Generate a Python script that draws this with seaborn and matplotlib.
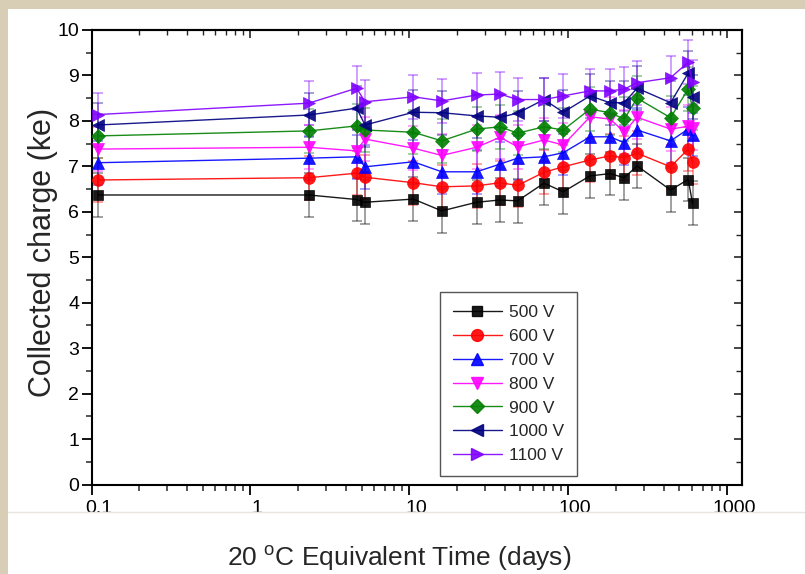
import matplotlib
matplotlib.use("Agg")
import matplotlib.pyplot as plt
import matplotlib.transforms as mtrans
from matplotlib.patches import Rectangle
from matplotlib.lines import Line2D
from matplotlib.ticker import FixedLocator, MultipleLocator, LogLocator, NullFormatter, FuncFormatter
import numpy as np
import pandas as pd
import seaborn as sns

# ---------------- data ----------------
TIME_DAYS = [0.11, 2.33, 4.66, 5.26, 10.6, 16.0, 26.5, 37.2, 48.0, 70.3, 93.0,
             137, 183, 225, 271, 440, 568, 605]

V500 = [6.37, 6.37, 6.27, 6.21, 6.28, 6.02, 6.21, 6.26, 6.24, 6.63, 6.44, 6.79, 6.84, 6.75, 7.01, 6.48, 6.71, 6.19]
V600 = [6.70, 6.75, 6.85, 6.76, 6.64, 6.55, 6.57, 6.64, 6.58, 6.87, 6.99, 7.14, 7.23, 7.19, 7.29, 6.99, 7.38, 7.09]
V700 = [7.08, 7.18, 7.21, 6.99, 7.10, 6.88, 6.88, 7.05, 7.18, 7.21, 7.30, 7.65, 7.65, 7.52, 7.80, 7.56, 7.82, 7.70]
V800 = [7.38, 7.42, 7.34, 7.60, 7.40, 7.24, 7.42, 7.64, 7.43, 7.58, 7.47, 8.09, 8.04, 7.76, 8.08, 7.82, 7.88, 7.85]
V900 = [7.67, 7.78, 7.89, 7.80, 7.75, 7.56, 7.82, 7.87, 7.73, 7.87, 7.80, 8.26, 8.18, 8.04, 8.50, 8.07, 8.70, 8.29]
V1000 = [7.91, 8.13, 8.28, 7.91, 8.19, 8.18, 8.11, 8.08, 8.17, 8.47, 8.19, 8.55, 8.40, 8.40, 8.72, 8.40, 9.05, 8.53]
V1100 = [8.14, 8.39, 8.72, 8.42, 8.53, 8.44, 8.57, 8.59, 8.47, 8.47, 8.55, 8.66, 8.66, 8.70, 8.84, 8.95, 9.29, 8.85]

CHARGE_ERR = 0.48  # ke, error bar half-height

SERIES_LABELS = ["500 V", "600 V", "700 V", "800 V", "900 V", "1000 V", "1100 V"]
SERIES_VALUES = [V500, V600, V700, V800, V900, V1000, V1100]

X_TICKS = [0.1, 1, 10, 100, 1000]

# ---------------- style ----------------
COLORS = ["#000000", "#ff0000", "#0000ff", "#ff00ff", "#008000", "#000080", "#8000ff"]
MARKERS = ["s", "o", "^", "v", "D", "<", ">"]
MSIZES = [7.5, 8.5, 8.5, 8.5, 7, 8.5, 8.5]

sns.set_theme(style="ticks")
plt.rcParams["font.family"] = ["Liberation Sans", "DejaVu Sans"]
plt.rcParams["mathtext.fontset"] = "custom"
plt.rcParams["mathtext.rm"] = "Liberation Sans"
plt.rcParams["mathtext.it"] = "Liberation Sans:italic"

W, H = 805, 574
fig = plt.figure(figsize=(W / 100, H / 100), dpi=100, facecolor="white")

# page-like background strips
fig.patches.append(Rectangle((0, 0), 8 / W, 1, transform=fig.transFigure,
                             facecolor="#d8ceb6", edgecolor="none", zorder=0))
fig.patches.append(Rectangle((0, 1 - 9 / H), 1, 9 / H, transform=fig.transFigure,
                             facecolor="#d8ceb6", edgecolor="none", zorder=0))
fig.lines.append(Line2D([8 / W, 1], [1 - 512 / H, 1 - 512 / H], transform=fig.transFigure,
                        color="#e8e5de", lw=1.0))

ax_l, ax_r, ax_t, ax_b = 91.5, 741.5, 30, 484.5
ax = fig.add_axes([ax_l / W, 1 - ax_b / H, (ax_r - ax_l) / W, (ax_b - ax_t) / H])
ax.set_facecolor("white")

for lab, vals, c, m, ms in zip(SERIES_LABELS, SERIES_VALUES, COLORS, MARKERS, MSIZES):
    ax.errorbar(TIME_DAYS, vals, yerr=CHARGE_ERR, fmt="none", ecolor=c, elinewidth=1.3,
                capsize=3.3, capthick=1.3, alpha=0.4, zorder=2)
    df = pd.DataFrame({"t": TIME_DAYS, "q": vals})
    sns.lineplot(data=df, x="t", y="q", ax=ax, color=c, marker=m, markersize=ms,
                 markeredgecolor=c, markeredgewidth=0.5, linewidth=1.0, alpha=0.9,
                 errorbar=None, legend=False, zorder=3)

ax.set_xscale("log")
ax.set_xlim(0.1, 1230)
ax.set_ylim(0, 10)

ax.xaxis.set_major_locator(FixedLocator(X_TICKS))
ax.xaxis.set_major_formatter(FuncFormatter(lambda v, p: f"{v:g}"))
ax.xaxis.set_minor_locator(LogLocator(base=10, subs=np.arange(2, 10)))
ax.xaxis.set_minor_formatter(NullFormatter())
ax.yaxis.set_major_locator(MultipleLocator(1))
ax.yaxis.set_minor_locator(MultipleLocator(0.5))

ax.tick_params(axis="both", which="major", direction="out", length=7, width=1.3,
               labelsize=14, colors="black", top=False, right=False)
ax.tick_params(axis="x", which="major", pad=4)
ax.tick_params(axis="y", which="major", pad=2, length=7)
ax.tick_params(axis="both", which="minor", direction="out", length=4, width=1.1,
               top=False, right=False)

for s in ax.spines.values():
    s.set_color("black")
    s.set_linewidth(1.5)

secx = ax.secondary_xaxis("top")
secx.xaxis.set_major_locator(FixedLocator(X_TICKS))
secx.xaxis.set_minor_locator(LogLocator(base=10, subs=np.arange(2, 10)))
secx.xaxis.set_major_formatter(NullFormatter())
secx.xaxis.set_minor_formatter(NullFormatter())
secx.tick_params(which="major", direction="in", length=6, width=1.2)
secx.tick_params(which="minor", direction="in", length=3.5, width=1.0)
secx.spines["top"].set_linewidth(1.5)

secy = ax.secondary_yaxis("right")
secy.yaxis.set_major_locator(MultipleLocator(1))
secy.yaxis.set_minor_locator(MultipleLocator(0.5))
secy.yaxis.set_major_formatter(NullFormatter())
secy.tick_params(which="major", direction="in", length=6, width=1.2)
secy.tick_params(which="minor", direction="in", length=4.5, width=1.0)
secy.spines["right"].set_linewidth(1.5)

ax.set_xlabel("20 $^\\mathrm{o}$C Equivalent Time (days)", fontsize=19)
ax.set_ylabel("Collected charge (ke)", fontsize=22)
ax.xaxis.set_label_coords((399 - ax_l) / (ax_r - ax_l), (ax_b - 544) / (ax_b - ax_t))
ax.yaxis.set_label_coords((58 - ax_l) / (ax_r - ax_l), 0.51)

handles = [Line2D([], [], color=c, marker=m, markersize=ms, markeredgecolor=c,
                  lw=1.0, alpha=0.9) for c, m, ms in zip(COLORS, MARKERS, MSIZES)]
leg = ax.legend(handles, SERIES_LABELS, loc="upper left",
                bbox_to_anchor=((440 - ax_l) / (ax_r - ax_l), (ax_b - 292) / (ax_b - ax_t)),
                frameon=True, fancybox=False, framealpha=1, edgecolor="#555555",
                fontsize=12.5, labelspacing=0.5, handlelength=2.8, handletextpad=0.4,
                borderpad=0.75, borderaxespad=0)
leg.get_frame().set_linewidth(1.0)

fig.canvas.draw()
shift = mtrans.ScaledTranslation(7 / 100, 0, fig.dpi_scale_trans)
for lbl in ax.get_xticklabels():
    lbl.set_transform(lbl.get_transform() + shift)

fig.savefig("out.png", dpi=100, facecolor=fig.get_facecolor())
